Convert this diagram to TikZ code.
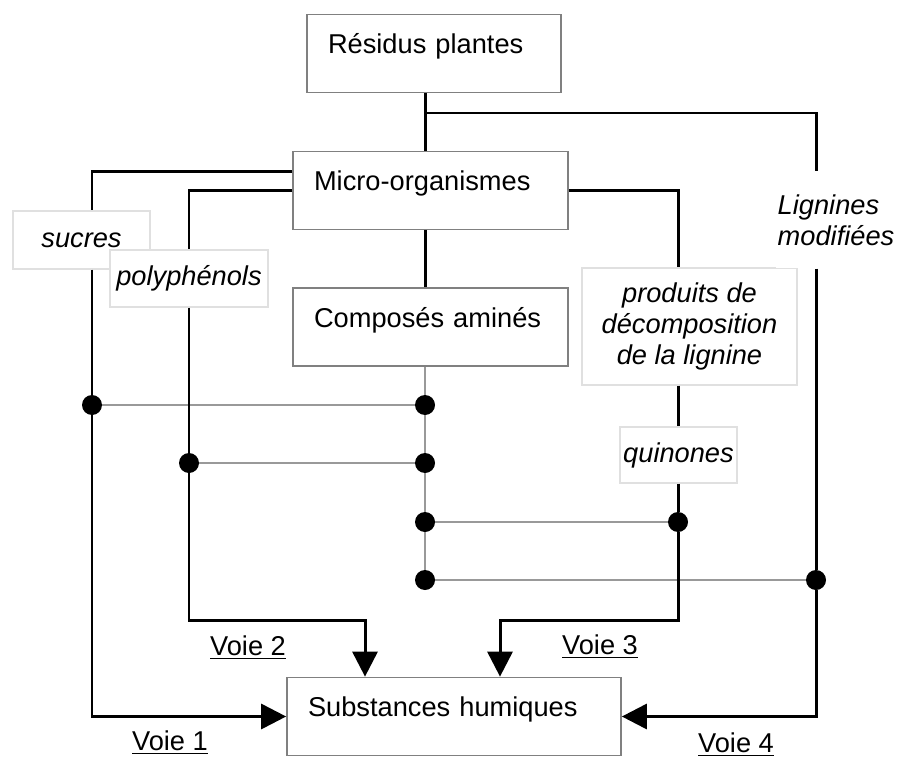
\documentclass[tikz,border=0pt]{standalone}
\usepackage{fontspec}
\setmainfont{Liberation Sans}
\usepackage{tikz}
\usetikzlibrary{arrows.meta}

\newcommand\diagfont{\fontsize{15.5}{17.6}\selectfont}

\tikzset{
	mainbox/.style={draw=black!50, line width=1pt, align=left, inner xsep=0.42cm, minimum height=1.56cm, text height=0.42cm, text depth=0.42cm},
	labbox/.style={draw=black!12, line width=0.8pt, fill=white, font=\diagfont\itshape, align=center, inner sep=0pt},
	voieline/.style={black, line width=1.7pt},
	crossline/.style={black!40, line width=1pt},
	junction/.style={circle, fill=black, inner sep=0pt, minimum size=0.4cm},
	arr/.style={-{Triangle[length=0.5cm, width=0.5cm]}}
}

\begin{document}
\begin{tikzpicture}[x=0.02cm, y=-0.02cm, every node/.style={font=\diagfont}]
	\useasboundingbox (0,0) rectangle (898,760);

	%Boxes

	\node (Res) [mainbox, text width=4.24cm] at (434,53.5) {Résidus plantes};
	\node (Micro) [mainbox, text width=4.66cm] at (430.5,190.5) {Micro-organismes};
	\node (Comp) [mainbox, text width=4.66cm] at (430.5,327) {Composés aminés};
	\node (Subst) [mainbox, text width=5.84cm] at (454,716.5) {Substances humiques};

	%Labels

	\node (Sucres) [labbox, minimum width=2.74cm, minimum height=1.16cm] at (81.5,240) {sucres};
	\node (Poly) [labbox, minimum width=3.16cm, minimum height=1.14cm] at (189,278.5) {polyphénols};
	\node (Prod) [labbox, minimum width=4.3cm, minimum height=2.34cm] at (689.5,326.5) {produits de\\décomposition\\de la lignine};
	\node (Quin) [labbox, minimum width=2.34cm, minimum height=1.12cm] at (678.5,455) {quinones};
	\node (Lign) [labbox, draw=none, align=left, minimum width=2.4cm, minimum height=1.92cm] at (836,220) {Lignines\\modifiées};

	%Junctions

	\node (D1) [junction] at (92,405) {};
	\node (D2) [junction] at (425,405) {};
	\node (D3) [junction] at (189,463) {};
	\node (D4) [junction] at (425,463) {};
	\node (D5) [junction] at (425,522) {};
	\node (D6) [junction] at (678,522) {};
	\node (D7) [junction] at (425,580) {};
	\node (D8) [junction] at (816,580) {};

	\coordinate (Fork) at (425,113);
	\coordinate (K2) at (365,620);
	\coordinate (K3) at (500,620);

	%Cross links

	\draw [crossline] (Comp.south -| D2) -- (D2) -- (D4) -- (D5) -- (D7);
	\draw [crossline] (D1) -- (D2);
	\draw [crossline] (D3) -- (D4);
	\draw [crossline] (D5) -- (D6);
	\draw [crossline] (D7) -- (D8);

	%Trunk

	\draw [voieline] (Res.south -| D2) -- (Micro.north -| D2);
	\draw [voieline] (Micro.south -| D2) -- (Comp.north -| D2);
	\draw [voieline] (Fork) -| (Lign.north -| D8);

	%Voie 1

	\draw [voieline] ([yshift=0.38cm]Micro.west) -| (Sucres.north -| D1);
	\draw [voieline, arr] (Sucres.south -| D1) -- (D1) |- (Subst.west);

	%Voie 2

	\draw [voieline] (Micro.west) -| (Poly.north -| D3);
	\draw [voieline, arr] (Poly.south -| D3) -- (D3) |- (K2) -- (Subst.north -| K2);

	%Voie 3

	\draw [voieline] (Micro.east) -| (Prod.north -| D6);
	\draw [voieline] (Prod.south -| D6) -- (Quin.north -| D6);
	\draw [voieline, arr] (Quin.south -| D6) -- (D6) |- (K3) -- (Subst.north -| K3);

	%Voie 4

	\draw [voieline, arr] (Lign.south -| D8) -- (D8) |- (Subst.east);

	%Names

	\node (V1) at (170,743) {\underline{Voie 1}};
	\node (V2) at (248,648) {\underline{Voie 2}};
	\node (V3) at (600,647) {\underline{Voie 3}};
	\node (V4) at (736,745) {\underline{Voie 4}};

\end{tikzpicture}
\end{document}
